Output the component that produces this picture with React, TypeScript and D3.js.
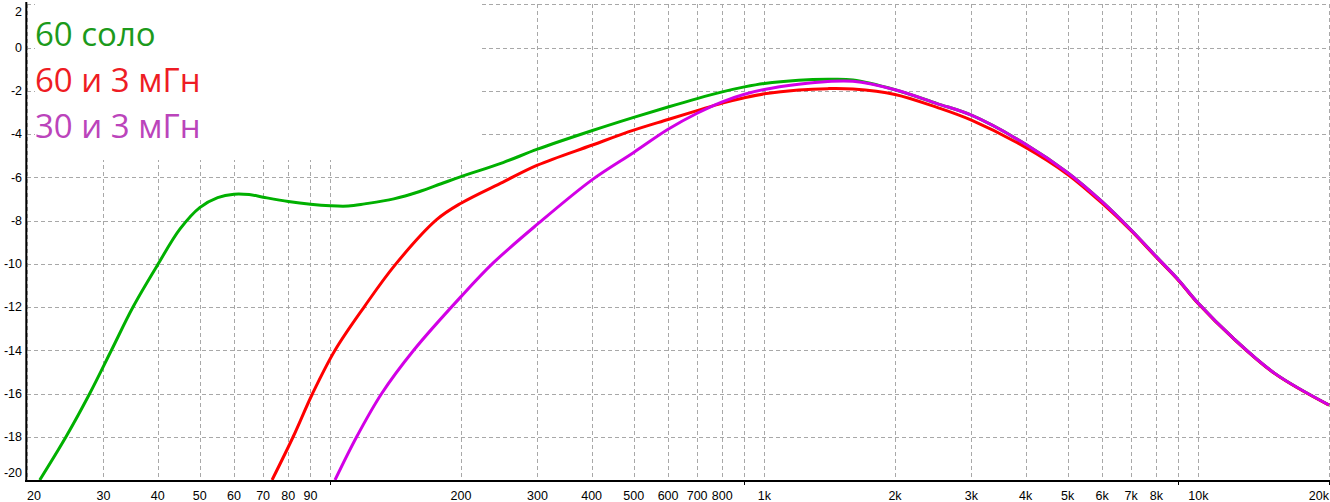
import * as d3 from "d3";

const W = 1330;
const H = 502;

// level in dB against frequency in Hz
const soloFreq = [21.4, 24.6, 27.9, 31.3, 35.1, 40, 45, 50, 55, 60, 65, 70, 80, 90, 100, 110, 120, 140, 160, 180, 200, 250, 300, 400, 500, 600, 700, 800, 900, 1000, 1200, 1400, 1600, 2000, 2500, 3000, 4000, 5000, 6000, 7000, 8000, 9000, 10000, 12000, 15000, 20000];
const soloDb = [-20, -18, -16, -14, -12, -10.05, -8.4, -7.4, -6.94, -6.78, -6.8, -6.92, -7.12, -7.25, -7.32, -7.33, -7.23, -7.0, -6.67, -6.3, -5.97, -5.32, -4.7, -3.85, -3.23, -2.75, -2.36, -2.05, -1.82, -1.66, -1.51, -1.47, -1.5, -1.95, -2.59, -3.13, -4.47, -5.79, -7.13, -8.44, -9.67, -10.75, -11.83, -13.42, -15.07, -16.53];

const coil60Freq = [73.4, 82.1, 91, 102.5, 119.6, 141, 176, 200, 250, 300, 400, 500, 600, 700, 800, 900, 1000, 1200, 1400, 1600, 2000, 2500, 3000, 4000, 5000, 6000, 7000, 8000, 9000, 10000, 12000, 15000, 20000];
const coil60Db = [-20, -18, -16, -14, -12, -10.05, -7.95, -7.2, -6.22, -5.44, -4.52, -3.82, -3.33, -2.92, -2.57, -2.32, -2.14, -1.96, -1.9, -1.92, -2.17, -2.77, -3.36, -4.62, -5.87, -7.2, -8.47, -9.7, -10.77, -11.85, -13.43, -15.08, -16.54];

const coil30Freq = [102.5, 115, 131.3, 155.6, 200, 237.6, 300, 400, 500, 600, 700, 800, 900, 1000, 1200, 1400, 1600, 2000, 2500, 3000, 4000, 5000, 6000, 7000, 8000, 9000, 10000, 12000, 15000, 20000];
const coil30Db = [-20, -18, -16, -14, -11.52, -9.95, -8.17, -6.13, -4.85, -3.78, -3.04, -2.51, -2.16, -1.94, -1.7, -1.57, -1.56, -1.95, -2.59, -3.13, -4.47, -5.79, -7.13, -8.44, -9.67, -10.75, -11.83, -13.42, -15.07, -16.53];

const seriesNames = ["60 соло", "60 и 3 мГн", "30 и 3 мГн"];

const xTicks = [20, 30, 40, 50, 60, 70, 80, 90, 100, 200, 300, 400, 500, 600, 700, 800, 900, 1000, 2000, 3000, 4000, 5000, 6000, 7000, 8000, 9000, 10000, 20000];
const xTickLabels = ["20", "30", "40", "50", "60", "70", "80", "90", "", "200", "300", "400", "500", "600", "700", "800", "", "1k", "2k", "3k", "4k", "5k", "6k", "7k", "8k", "", "10k", "20k"];
const yTicks = [2, 0, -2, -4, -6, -8, -10, -12, -14, -16, -18, -20];

const lineColors = ["#00b000", "#ff0000", "#d200e6"];
const textColors = ["#1c9a1c", "#ee1c24", "#bb44bb"];

const x = d3.scaleLog().domain([20, 20000]).range([27, 1329]);
const y = d3.scaleLinear().domain([-20, 2]).range([480, 4.3]);

const zip = (f: number[], v: number[]) => f.map((d, i) => [d, v[i]] as [number, number]);
const series = [zip(soloFreq, soloDb), zip(coil60Freq, coil60Db), zip(coil30Freq, coil30Db)];

const line = d3
  .line<[number, number]>()
  .x((d) => x(d[0]))
  .y((d) => y(d[1]))
  .curve(d3.curveCatmullRom.alpha(0.5));

const labelFont = "'Liberation Sans', Arial, sans-serif";

export default function App() {
  const last = xTicks.length - 1;
  return (
    <svg
      width={W}
      height={H}
      style={{ position: "absolute", left: 0, top: 0, background: "#fff" }}
    >
      <defs>
        <clipPath id="plot">
          <rect x={27} y={0} width={W - 27} height={480} />
        </clipPath>
      </defs>
      <rect width={W} height={H} fill="#fff" />

      {/* grid */}
      <g stroke="#a8a8a8" strokeWidth={1} strokeDasharray="4,3">
        {xTicks.map((t) => (
          <line key={"gx" + t} x1={Math.round(x(t)) + 0.5} x2={Math.round(x(t)) + 0.5} y1={4} y2={480} />
        ))}
        {yTicks.map((t) => (
          <line key={"gy" + t} x1={27} x2={1330} y1={Math.round(y(t)) + 0.5} y2={Math.round(y(t)) + 0.5} />
        ))}
      </g>

      {/* legend box hides the grid behind it */}
      <rect x={35} y={0} width={447} height={160} fill="#fff" />

      <g clipPath="url(#plot)" fill="none" strokeWidth={3} strokeLinejoin="round">
        {series.map((s, i) => (
          <path key={i} d={line(s) || ""} stroke={lineColors[i]} />
        ))}
      </g>

      {/* axes */}
      <line x1={26.3} x2={26.3} y1={2} y2={482} stroke="#000" strokeWidth={2} />
      <line x1={25} x2={1330} y1={481} y2={481} stroke="#000" strokeWidth={2} />
      {xTicks.map((t, i) =>
        xTickLabels[i] === "" || i === last ? (
          <line key={"tk" + t} x1={Math.round(x(t)) + 0.5} x2={Math.round(x(t)) + 0.5} y1={481} y2={485} stroke="#000" strokeWidth={1} />
        ) : null
      )}

      <g fontFamily={labelFont} fontSize={12.5} fill="#000">
        {xTicks.map((t, i) => {
          const lbl = xTickLabels[i];
          if (!lbl) return null;
          const anchor = i === 0 ? "start" : i === last ? "end" : "middle";
          return (
            <text key={"xl" + t} x={x(t)} y={499.5} textAnchor={anchor}>
              {lbl}
            </text>
          );
        })}
        {yTicks.map((t) => {
          const cy = Math.min(Math.max(y(t), 11.5), 472.5);
          return (
            <text key={"yl" + t} x={22} y={cy} dy="0.35em" textAnchor="end">
              {t}
            </text>
          );
        })}
      </g>

      {/* legend */}
      <g fontFamily="'Open Sans', sans-serif" fontSize={33}>
        {seriesNames.map((n, i) => (
          <text key={n} x={35} y={45.5 + i * 46} fill={textColors[i]}>
            {n}
          </text>
        ))}
      </g>
    </svg>
  );
}
